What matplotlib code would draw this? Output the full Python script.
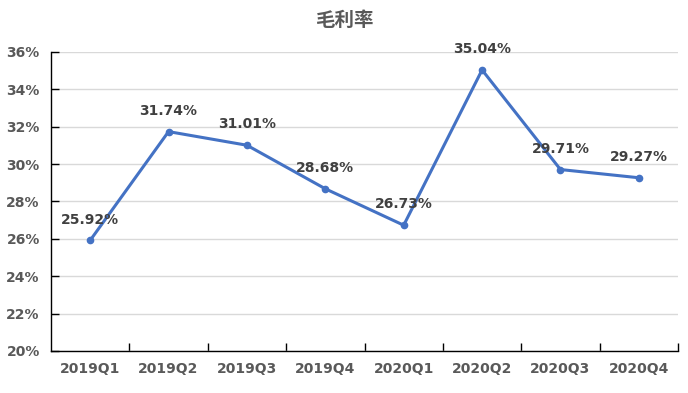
import matplotlib.pyplot as plt
from matplotlib.ticker import FuncFormatter, MultipleLocator, FixedLocator

plt.rcParams['font.family'] = ['DejaVu Sans', 'Noto Sans CJK SC']

quarters = ['2019Q1', '2019Q2', '2019Q3', '2019Q4', '2020Q1', '2020Q2', '2020Q3', '2020Q4']
margin = [25.92, 31.74, 31.01, 28.68, 26.73, 35.04, 29.71, 29.27]

fig = plt.figure(figsize=(6.88, 3.93), dpi=100)
ax = fig.add_axes([0.0741, 0.1069, 0.9114, 0.7608])

x = list(range(len(quarters)))
ax.plot(x, margin, color='#4472C4', linewidth=2.2, marker='o', markersize=4.5)

# data labels above each point
for xi, v in zip(x, margin):
    ax.annotate(f'{v:.2f}%', (xi, v), xytext=(0, 15), textcoords='offset points',
                ha='center', va='center', fontsize=10, fontweight='bold', color='#404040')

ax.set_xlim(-0.5, len(quarters) - 0.5)
ax.set_ylim(20, 36)
ax.yaxis.set_major_locator(MultipleLocator(2))
ax.yaxis.set_major_formatter(FuncFormatter(lambda v, p: f'{v:.0f}%'))
ax.grid(axis='y', color='#D9D9D9', linewidth=1)
ax.set_axisbelow(True)

# category labels at centers, tick marks at boundaries
ax.set_xticks(x)
ax.set_xticklabels(quarters)
ax.xaxis.set_minor_locator(FixedLocator([i + 0.5 for i in range(len(quarters))]))
ax.tick_params(axis='x', which='major', length=0, pad=8)
ax.tick_params(axis='x', which='minor', direction='in', length=6, width=1, color='black')
ax.tick_params(axis='y', direction='in', length=6, width=1, pad=8)

for lab in ax.get_xticklabels() + ax.get_yticklabels():
    lab.set_fontsize(10)
    lab.set_fontweight('bold')
    lab.set_color('#595959')

for s in ['top', 'right']:
    ax.spines[s].set_visible(False)
for s in ['left', 'bottom']:
    ax.spines[s].set_color('black')
    ax.spines[s].set_linewidth(1)

fig.text(0.5, 0.948, '毛利率', ha='center', va='center', fontsize=14,
         fontweight='bold', color='#595959', family=['Noto Sans CJK SC', 'DejaVu Sans'])

fig.savefig('out.png', dpi=100)
